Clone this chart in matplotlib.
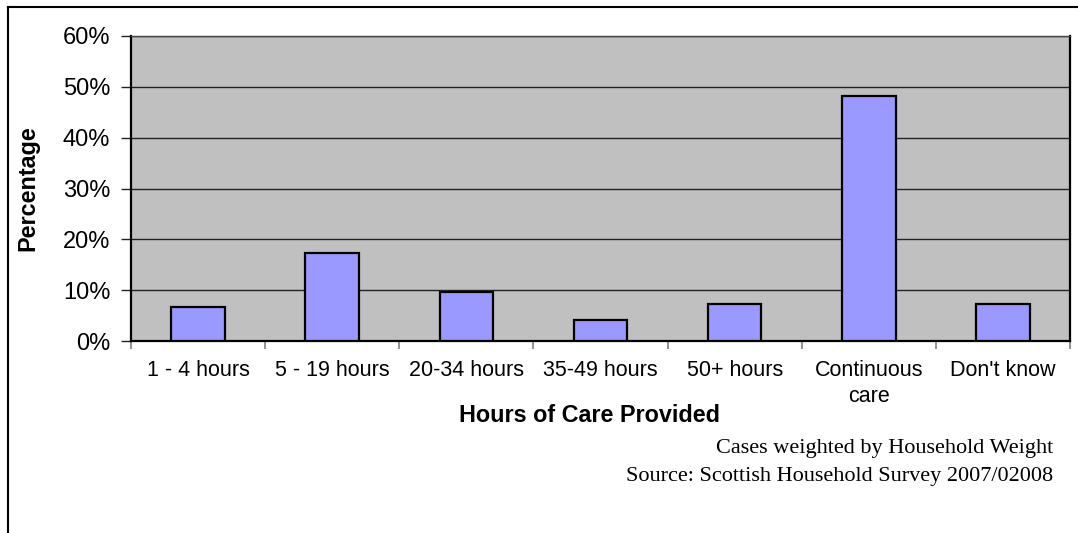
import matplotlib.pyplot as plt
from matplotlib.lines import Line2D

categories = ['1 - 4 hours', '5 - 19 hours', '20-34 hours', '35-49 hours',
              '50+ hours', 'Continuous\ncare', "Don't know"]
values = [6.6, 17.3, 9.7, 4.2, 7.2, 48.1, 7.2]
y_ticks = [0, 10, 20, 30, 40, 50, 60]
y_ticklabels = ['0%', '10%', '20%', '30%', '40%', '50%', '60%']

plt.rcParams['font.family'] = ['Liberation Sans', 'DejaVu Sans']

fig = plt.figure(figsize=(10.78, 5.33), dpi=100)
ax = fig.add_axes([131 / 1078, 1 - 341 / 533, (1070 - 131) / 1078, (341 - 36) / 533])

x = range(len(categories))
ax.set_facecolor('#C0C0C0')
ax.bar(x, values, width=0.4, color='#9999FF', edgecolor='black', linewidth=1.6, zorder=3)

ax.set_xlim(-0.5, len(categories) - 0.5)
ax.set_ylim(0, 60)
ax.set_yticks(y_ticks)
ax.set_yticklabels(y_ticklabels, fontsize=17)
ax.yaxis.grid(True, color='#222222', linewidth=1.0, zorder=0)
ax.set_axisbelow(True)

# category labels sit between the boundary ticks
ax.set_xticks([i - 0.5 for i in range(len(categories) + 1)])
ax.set_xticklabels([])
ax.set_xticks(list(x), minor=True)
ax.set_xticklabels(categories, minor=True, fontsize=15.5, linespacing=1.3)
ax.tick_params(axis='x', which='minor', length=0, pad=14)
ax.tick_params(axis='x', which='major', length=6, color='#808080', width=1.2)
ax.tick_params(axis='y', length=7, color='#222222', width=1.0, pad=8)

for s in ax.spines.values():
    s.set_color('black')
    s.set_linewidth(1.6)
ax.spines['top'].set_color('#444444')
ax.spines['top'].set_linewidth(1.0)

ax.set_xlabel('Hours of Care Provided', fontsize=16.8, fontweight='bold')
ax.set_ylabel('Percentage', fontsize=16.8, fontweight='bold')
ax.xaxis.set_label_coords((589.5 - 131) / 939, (341 - 416) / 305)
ax.yaxis.set_label_coords((28 - 131) / 939, 0.5)
ax.xaxis.label.set_va('center')
ax.yaxis.label.set_va('center')

fig.text(1053 / 1078, 1 - 449 / 533, 'Cases weighted by Household Weight',
         ha='right', va='center', fontsize=16, family='Liberation Serif')
fig.text(1053 / 1078, 1 - 477 / 533, 'Source: Scottish Household Survey 2007/02008',
         ha='right', va='center', fontsize=16, family='Liberation Serif')

# outer frame (left and top edges)
fig.add_artist(Line2D([8 / 1078, 8 / 1078], [0, 1 - 7 / 533], color='black', linewidth=1.5,
                      transform=fig.transFigure))
fig.add_artist(Line2D([8 / 1078, 1], [1 - 7 / 533, 1 - 7 / 533], color='black', linewidth=1.5,
                      transform=fig.transFigure))

fig.savefig('out.png', dpi=100)
